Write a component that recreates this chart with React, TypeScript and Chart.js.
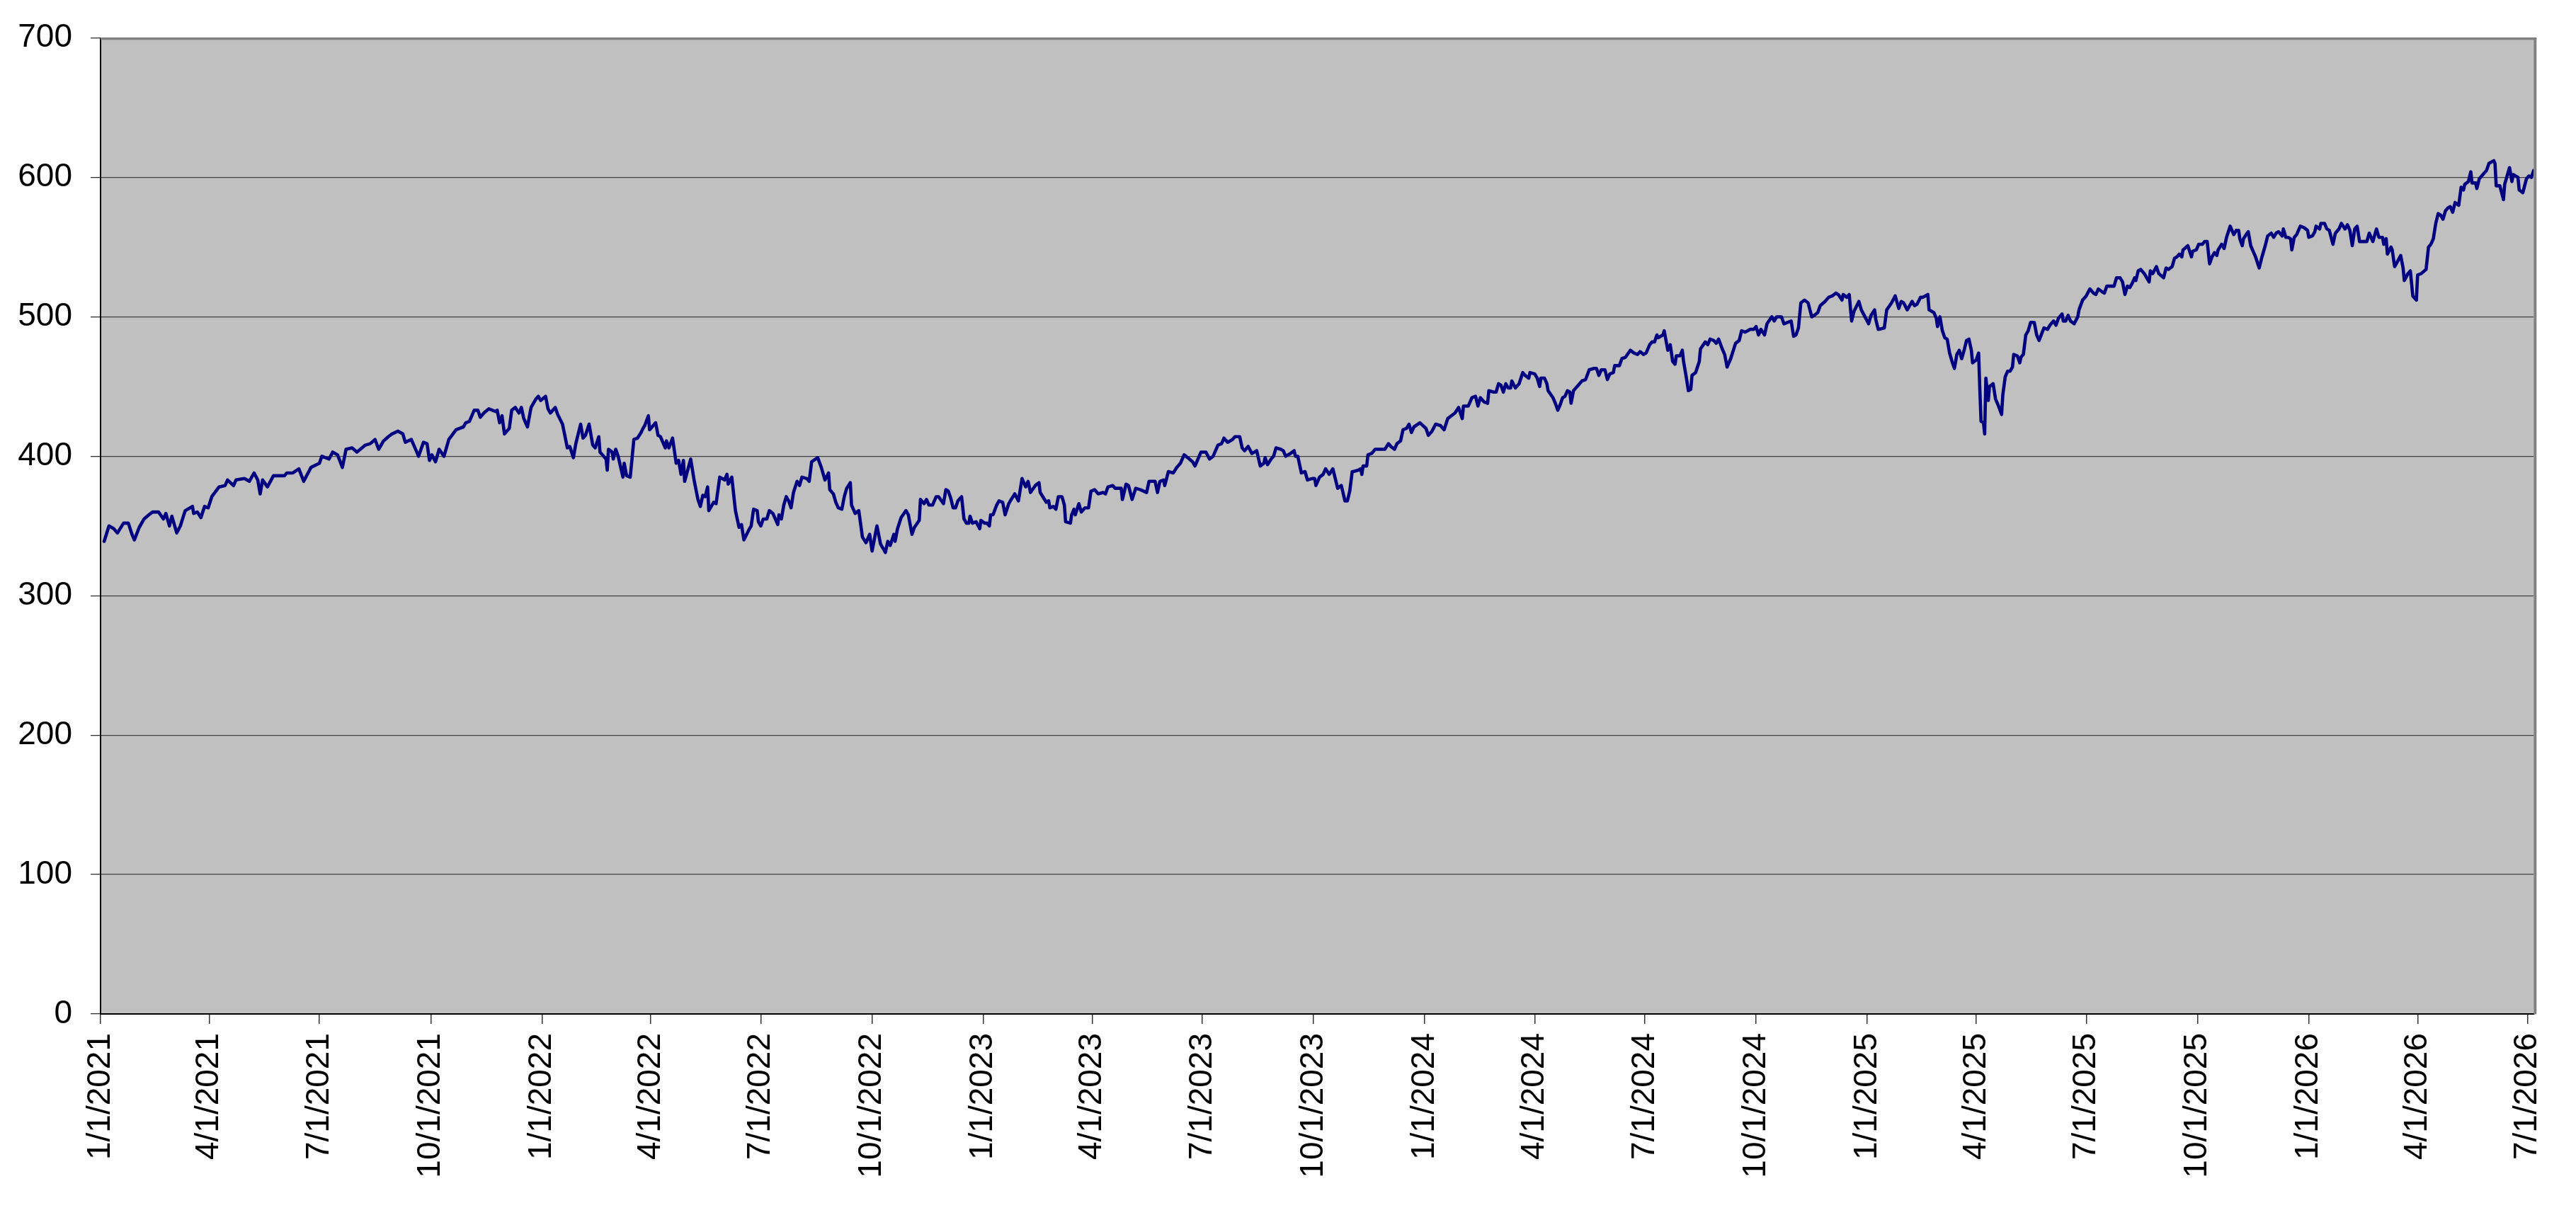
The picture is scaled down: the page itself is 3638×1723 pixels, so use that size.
import { useEffect, useRef } from "react"
import { Chart, registerables } from "chart.js"

Chart.register(...registerables)

// [days since 1/1/2021, value]
const points2021 = [
    [3, 339], [7, 350], [11, 348], [14, 345], [19, 352], [23, 352], [26, 344], [28, 340], [32, 349], [36, 355],
    [40, 358], [43, 360], [48, 360], [52, 355], [54, 359], [57, 350], [59, 357], [63, 345], [66, 350], [70, 361],
    [76, 364], [77, 359], [80, 360], [83, 356], [86, 364], [89, 363], [92, 371], [98, 378], [103, 379], [105, 383],
    [110, 379], [112, 383], [119, 384], [123, 382], [127, 388], [130, 383], [132, 373], [134, 383], [138, 378], [143, 386],
    [152, 386], [154, 388], [159, 388], [164, 391], [168, 382], [174, 392], [181, 395], [183, 400], [189, 398], [192, 403],
    [196, 401], [200, 392], [203, 405], [208, 406], [212, 403], [219, 408], [223, 409], [227, 412], [230, 405], [234, 411],
    [238, 414], [241, 416], [246, 418], [250, 416], [252, 410], [257, 412], [259, 408], [263, 400], [267, 410], [270, 409],
    [272, 397], [274, 401], [277, 396], [280, 405], [284, 400], [288, 412], [294, 419], [300, 421], [302, 424], [305, 425],
    [309, 433], [312, 433], [314, 428], [317, 431], [321, 434], [327, 432], [328, 433], [330, 424], [332, 429], [334, 416],
    [338, 420], [340, 433], [343, 435], [346, 431], [348, 435], [350, 427], [353, 421], [356, 435], [360, 441], [362, 443],
    [364, 440],
]

const points2022 = [
    [368, 443], [370, 434], [372, 431], [376, 435], [378, 430], [382, 423], [386, 406], [388, 407], [391, 399], [393, 409],
    [397, 423], [399, 413], [401, 415], [404, 423], [407, 408], [409, 406], [412, 414], [413, 403], [418, 398], [419, 390],
    [420, 405], [423, 403], [424, 398], [426, 405], [428, 400], [432, 385], [433, 395], [435, 386], [438, 385], [441, 412],
    [444, 413], [447, 417], [448, 419], [450, 422], [453, 429], [454, 419], [459, 424], [461, 415], [463, 414], [467, 406],
    [468, 411], [470, 406], [473, 413], [476, 395], [478, 397], [480, 387], [482, 397], [483, 382], [488, 398], [491, 382],
    [494, 369], [496, 364], [498, 372], [500, 371], [502, 378], [503, 361], [507, 367], [509, 366], [512, 385], [516, 383],
    [518, 387], [519, 380], [522, 385], [525, 361], [528, 349], [530, 351], [532, 340], [536, 347], [538, 350], [540, 362],
    [543, 361], [544, 353], [546, 350], [548, 355], [551, 355], [553, 361], [556, 359], [560, 351], [561, 358], [563, 355],
    [565, 365], [567, 371], [569, 368], [571, 363], [573, 374], [576, 382], [578, 379], [580, 385], [584, 384], [586, 382],
    [588, 396], [593, 399], [596, 392], [599, 383], [602, 388], [603, 376], [606, 373], [608, 367], [610, 363], [613, 362],
    [615, 371], [617, 377], [620, 381], [621, 365], [624, 359], [627, 361], [630, 342], [633, 338], [636, 344], [638, 332],
    [642, 350], [645, 337], [649, 331], [651, 339], [653, 336], [656, 344], [657, 339], [659, 348], [662, 356], [666, 361],
    [668, 358], [671, 344], [673, 349], [677, 354], [678, 369], [681, 366], [683, 369], [685, 365], [688, 365], [691, 371],
    [693, 371], [697, 366], [699, 376], [701, 375], [703, 370], [705, 363], [707, 363], [709, 368], [712, 371], [714, 355],
    [716, 352], [718, 352], [719, 357], [721, 352], [724, 353], [727, 348], [728, 354],
]

const points2023 = [
    [731, 352], [733, 352], [735, 350], [736, 358], [738, 358], [741, 365], [743, 368], [746, 367], [748, 358], [751, 366],
    [753, 369], [756, 373], [759, 368], [762, 384], [765, 378], [767, 382], [769, 374], [773, 379], [776, 381], [777, 374],
    [782, 367], [784, 368], [785, 363], [788, 364], [790, 362], [792, 371], [795, 371], [797, 365], [798, 353], [802, 352],
    [803, 358], [805, 362], [806, 358], [809, 366], [811, 360], [814, 363], [817, 363], [819, 375], [822, 376], [825, 373],
    [829, 374], [831, 373], [833, 378], [837, 379], [839, 377], [844, 377], [845, 369], [848, 380], [850, 379], [853, 369],
    [856, 377], [860, 376], [865, 374], [867, 382], [872, 382], [874, 374], [876, 382], [879, 383], [880, 379], [883, 389],
    [887, 388], [890, 392], [893, 395], [896, 401], [899, 399], [903, 396], [905, 393], [907, 397], [910, 403], [914, 403],
    [917, 398], [920, 400], [924, 408], [927, 409], [929, 413], [932, 410], [936, 412], [938, 414], [942, 414], [944, 406],
    [946, 404], [949, 407], [952, 402], [956, 404], [959, 393], [962, 395], [963, 399], [965, 394], [968, 398], [970, 400],
    [972, 406], [976, 405], [978, 404], [980, 400], [984, 402], [987, 404], [988, 400], [990, 400], [993, 388], [996, 389],
    [998, 383], [1002, 384], [1004, 384], [1005, 379], [1008, 385], [1011, 387], [1013, 391], [1016, 387], [1019, 391], [1023, 377],
    [1026, 379], [1029, 368], [1031, 368], [1033, 375], [1035, 389], [1036, 389], [1040, 390], [1042, 391], [1043, 387], [1044, 393],
    [1047, 393], [1048, 401], [1051, 402], [1054, 405], [1057, 405], [1062, 405], [1065, 409], [1067, 407], [1070, 405], [1072, 409],
    [1075, 411], [1077, 419], [1080, 420], [1082, 423], [1084, 417], [1086, 421], [1091, 424],
]

const points2024 = [
    [1096, 420], [1098, 415], [1101, 418], [1104, 423], [1108, 422], [1111, 419], [1114, 427], [1117, 429], [1120, 431], [1123, 435],
    [1126, 427], [1127, 436], [1131, 436], [1134, 442], [1137, 443], [1139, 436], [1141, 442], [1144, 439], [1147, 438], [1148, 447],
    [1152, 446], [1154, 446], [1156, 452], [1158, 451], [1160, 446], [1162, 452], [1164, 449], [1166, 449], [1167, 454], [1170, 449],
    [1173, 452], [1176, 460], [1178, 458], [1181, 456], [1182, 460], [1186, 459], [1188, 456], [1190, 450], [1191, 456], [1194, 456],
    [1196, 452], [1197, 447], [1201, 442], [1203, 438], [1205, 433], [1207, 437], [1209, 442], [1211, 443], [1213, 447], [1215, 446],
    [1216, 438], [1218, 447], [1222, 451], [1225, 454], [1228, 455], [1231, 462], [1235, 463], [1237, 463], [1239, 458], [1241, 462],
    [1244, 462], [1246, 455], [1248, 459], [1251, 460], [1252, 465], [1256, 465], [1258, 470], [1261, 471], [1265, 476], [1268, 474],
    [1271, 473], [1273, 475], [1276, 473], [1278, 474], [1281, 480], [1283, 482], [1285, 482], [1287, 487], [1288, 485], [1292, 487],
    [1293, 490], [1296, 476], [1298, 480], [1300, 468], [1302, 466], [1303, 472], [1306, 472], [1308, 476], [1309, 468], [1311, 458],
    [1313, 447], [1315, 448], [1316, 458], [1319, 460], [1322, 468], [1323, 477], [1327, 482], [1329, 480], [1331, 484], [1334, 483],
    [1336, 481], [1338, 484], [1341, 477], [1343, 473], [1345, 464], [1348, 470], [1352, 481], [1355, 483], [1357, 490], [1360, 489],
    [1364, 491], [1367, 491], [1369, 493], [1371, 487], [1373, 491], [1376, 487], [1378, 495], [1382, 500], [1384, 497], [1386, 500],
    [1390, 500], [1392, 495], [1398, 497], [1400, 486], [1402, 487], [1404, 492], [1406, 510], [1409, 512], [1412, 510], [1415, 500],
    [1417, 501], [1420, 503], [1422, 508], [1426, 511], [1429, 514], [1432, 515], [1435, 517], [1437, 516], [1440, 512], [1441, 516],
    [1444, 514], [1446, 516], [1448, 497], [1450, 504], [1454, 511], [1456, 505], [1459, 500],
]

const points2025 = [
    [1462, 495], [1464, 501], [1467, 505], [1468, 498], [1470, 491], [1475, 492], [1477, 505], [1481, 510], [1484, 515], [1487, 506],
    [1489, 511], [1491, 510], [1494, 505], [1498, 511], [1500, 508], [1502, 509], [1505, 514], [1507, 514], [1511, 516], [1512, 505],
    [1516, 503], [1518, 499], [1519, 493], [1521, 500], [1523, 490], [1525, 485], [1527, 484], [1529, 474], [1531, 468], [1533, 463],
    [1535, 473], [1537, 476], [1539, 470], [1541, 476], [1543, 483], [1545, 484], [1547, 476], [1548, 467], [1551, 469], [1553, 474],
    [1554, 448], [1555, 425], [1557, 424], [1558, 416], [1559, 456], [1561, 440], [1562, 450], [1565, 452], [1567, 441], [1569, 437],
    [1572, 430], [1573, 444], [1575, 457], [1577, 461], [1579, 461], [1581, 464], [1582, 473], [1585, 472], [1587, 467], [1588, 471],
    [1590, 473], [1592, 487], [1594, 490], [1596, 496], [1599, 496], [1601, 487], [1603, 483], [1607, 492], [1610, 491], [1612, 494],
    [1615, 497], [1617, 494], [1619, 499], [1622, 502], [1623, 497], [1625, 497], [1627, 501], [1629, 497], [1632, 495], [1635, 500],
    [1636, 505], [1639, 512], [1642, 515], [1645, 520], [1648, 517], [1650, 516], [1652, 520], [1655, 518], [1657, 517], [1659, 522],
    [1662, 522], [1665, 522], [1667, 528], [1670, 528], [1672, 525], [1674, 516], [1676, 522], [1678, 521], [1680, 524], [1682, 528],
    [1683, 526], [1685, 533], [1687, 534], [1690, 531], [1692, 528], [1694, 525], [1695, 533], [1697, 531], [1700, 536], [1702, 531],
    [1706, 528], [1708, 535], [1710, 534], [1713, 536], [1715, 542], [1717, 543], [1719, 545], [1721, 543], [1722, 548], [1726, 551],
    [1729, 543], [1730, 547], [1733, 548], [1735, 552], [1738, 552], [1740, 554], [1742, 554], [1744, 538], [1746, 543], [1748, 546],
    [1750, 544], [1751, 548], [1754, 552], [1756, 549], [1758, 557], [1761, 565], [1764, 559], [1766, 562], [1768, 562], [1769, 556],
    [1771, 551], [1772, 556], [1775, 560], [1776, 561], [1778, 551], [1780, 547], [1782, 543], [1785, 535], [1787, 542], [1790, 551],
    [1792, 558], [1795, 560], [1797, 557], [1799, 560], [1801, 561], [1804, 558], [1805, 563], [1807, 557], [1809, 557], [1811, 556],
    [1812, 548], [1814, 557], [1816, 559], [1819, 565], [1822, 564], [1825, 562],
]

const points2026 = [
    [1826, 557], [1829, 558], [1831, 561], [1832, 565], [1835, 563], [1836, 567], [1839, 567], [1841, 563], [1843, 562], [1846, 552],
    [1848, 560], [1851, 563], [1853, 567], [1856, 563], [1858, 566], [1860, 562], [1862, 551], [1864, 563], [1866, 565], [1868, 554],
    [1871, 554], [1874, 554], [1876, 560], [1879, 554], [1882, 563], [1884, 557], [1887, 557], [1888, 552], [1890, 556], [1891, 545],
    [1894, 550], [1895, 548], [1897, 536], [1899, 539], [1902, 544], [1904, 535], [1905, 526], [1908, 531], [1910, 533], [1912, 515],
    [1915, 512], [1916, 530], [1919, 531], [1923, 534], [1925, 550], [1927, 552], [1929, 556], [1931, 567], [1933, 574], [1935, 573],
    [1937, 570], [1939, 576], [1941, 578], [1943, 579], [1945, 575], [1947, 582], [1950, 580], [1952, 593], [1954, 591], [1955, 595],
    [1958, 597], [1960, 604], [1961, 596], [1964, 596], [1965, 592], [1967, 599], [1970, 602], [1973, 605], [1975, 610], [1979, 612],
    [1980, 610], [1981, 594], [1984, 594], [1987, 584], [1988, 595], [1992, 607], [1994, 597], [1995, 602], [1997, 601], [1999, 600],
    [2000, 591], [2003, 589], [2006, 599], [2008, 601], [2010, 600], [2012, 605],
]

const tickLabels = [
    "1/1/2021", "4/1/2021", "7/1/2021", "10/1/2021",
    "1/1/2022", "4/1/2022", "7/1/2022", "10/1/2022",
    "1/1/2023", "4/1/2023", "7/1/2023", "10/1/2023",
    "1/1/2024", "4/1/2024", "7/1/2024", "10/1/2024",
    "1/1/2025", "4/1/2025", "7/1/2025", "10/1/2025",
    "1/1/2026", "4/1/2026", "7/1/2026",
]

const yMax = 700
const xMax = 2012 // 7/6/2026, last plotted day

const dayOf = (label: string) => {
    const [m, d, y] = label.split("/").map(Number)
    return Math.round((Date.UTC(y, m - 1, d) - Date.UTC(2021, 0, 1)) / 86400000)
}

const tickDays = tickLabels.map(dayOf)

const allPoints = [...points2021, ...points2022, ...points2023, ...points2024, ...points2025, ...points2026]

const font = { family: "'Liberation Sans', Arial, sans-serif", size: 46 }

// grey plot area + the raised grey frame on top and right
const plotFrame = {
    id: "plotFrame",
    beforeDraw(chart: Chart) {
        const { ctx, chartArea: a } = chart
        ctx.save()
        ctx.fillStyle = "#c0c0c0"
        ctx.fillRect(a.left, a.top, a.right - a.left, a.bottom - a.top)
        ctx.restore()
    },
    afterDatasetsDraw(chart: Chart) {
        const { ctx, chartArea: a } = chart
        ctx.save()
        ctx.fillStyle = "#808080"
        ctx.fillRect(a.left, a.top - 0.7, a.right - a.left + 4, 3.4)
        ctx.fillRect(a.right, a.top - 0.7, 4, a.bottom - a.top + 1)
        ctx.restore()
    },
}

function App() {
    const chartRef = useRef<HTMLCanvasElement>(null)
    const chartInstance = useRef<Chart | null>(null)

    useEffect(() => {
        if (!chartRef.current) return

        if (chartInstance.current) {
            chartInstance.current.destroy()
        }

        chartInstance.current = new Chart(chartRef.current, {
            type: "line",
            data: {
                datasets: [
                    {
                        data: allPoints.map(([x, y]) => ({ x, y })),
                        borderColor: "#000080",
                        borderWidth: 4.6,
                        borderJoinStyle: "round",
                        borderCapStyle: "round",
                        pointRadius: 0,
                        tension: 0,
                        fill: false,
                    },
                ],
            },
            options: {
                animation: false,
                responsive: true,
                maintainAspectRatio: false,
                layout: { padding: { top: 44, right: 30, left: 0, bottom: 0 } },
                plugins: { legend: { display: false }, tooltip: { enabled: false } },
                scales: {
                    x: {
                        type: "linear",
                        min: 0,
                        max: xMax,
                        afterBuildTicks: (scale) => {
                            scale.ticks = tickDays.map((v) => ({ value: v }))
                        },
                        afterFit: (scale) => {
                            scale.height = 291
                        },
                        grid: { drawOnChartArea: false, tickLength: 14, color: "#333", lineWidth: 1.5 },
                        border: { color: "#000", width: 2 },
                        ticks: {
                            autoSkip: false,
                            minRotation: 90,
                            maxRotation: 90,
                            padding: 13,
                            color: "#000",
                            font,
                            callback: (v) => tickLabels[tickDays.indexOf(Number(v))],
                        },
                    },
                    y: {
                        min: 0,
                        max: yMax,
                        afterFit: (scale) => {
                            scale.width = 142
                        },
                        grid: {
                            color: (c) => (c.tick && c.tick.value === yMax ? "rgba(0,0,0,0)" : "#404040"),
                            tickColor: "#333",
                            lineWidth: 1.3,
                            tickLength: 14,
                        },
                        border: { color: "#000", width: 2 },
                        ticks: { stepSize: 100, padding: 26, color: "#000", font },
                    },
                },
            },
            plugins: [plotFrame],
        })

        return () => {
            chartInstance.current?.destroy()
        }
    }, [])

    return (
        <div style={{ position: "fixed", left: 0, top: 0, width: 3638, height: 1723, background: "#fff" }}>
            <canvas ref={chartRef}></canvas>
        </div>
    )
}

export default App
